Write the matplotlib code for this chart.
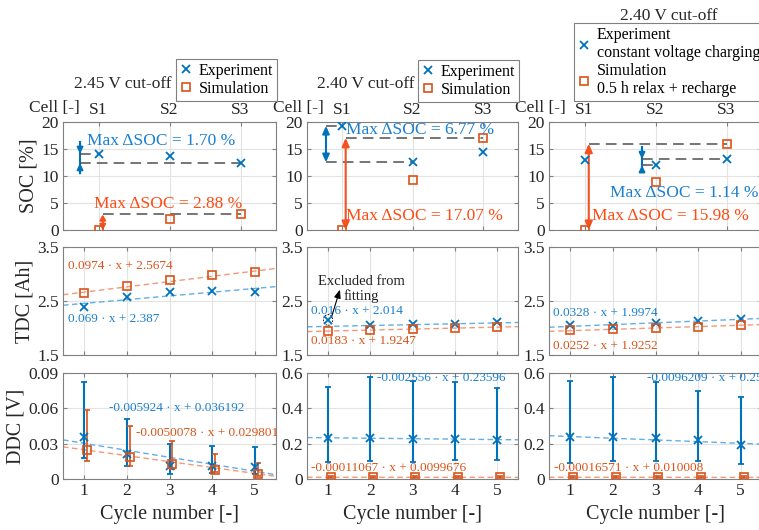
import numpy as np
import matplotlib.pyplot as plt
from matplotlib.patches import Ellipse

plt.rcParams['font.family'] = ['Liberation Serif', 'DejaVu Serif']
plt.rcParams['axes.linewidth'] = 0.8

BLUE = '#0072BD'
ORANGE = '#D95319'
TXT_BLUE = '#1A7FD1'
TXT_ORANGE = '#FF4A12'
FIT_BLUE = '#62AEE6'
FIT_ORANGE = '#F29A78'
EDGE = '#808080'
TICKC = '#262626'

# ---- data ----
titles = ['2.45 V cut-off', '2.40 V cut-off', '2.40 V cut-off']
legend_labels = [['Experiment', 'Simulation'],
                 ['Experiment', 'Simulation'],
                 ['Experiment\nconstant voltage charging',
                  'Simulation\n0.5 h relax + recharge']]
cells = ['S1', 'S2', 'S3']

soc_exp = [[14.1, 13.7, 12.4], [19.3, 12.53, 14.4], [13.0, 12.0, 13.14]]
soc_sim = [[0.0, 2.0, 2.88], [0.0, 9.2, 17.07], [0.0, 8.9, 15.98]]
max_dsoc_exp = [1.70, 6.77, 1.14]
max_dsoc_sim = [2.88, 17.07, 15.98]

cycles = [1, 2, 3, 4, 5]
tdc_exp = [[2.38, 2.58, 2.665, 2.69, 2.66],
           [2.15, 2.055, 2.065, 2.08, 2.11],
           [2.06, 2.04, 2.085, 2.13, 2.165]]
tdc_sim = [[2.645, 2.78, 2.88, 2.975, 3.03],
           [1.945, 1.96, 1.985, 2.0, 2.02],
           [1.963, 1.976, 1.994, 2.024, 2.056]]
tdc_fit_exp = [(0.069, 2.387), (0.016, 2.014), (0.0328, 1.9974)]
tdc_fit_sim = [(0.0974, 2.5674), (0.0183, 1.9247), (0.0252, 1.9252)]

ddc_exp = [[0.0354, 0.0213, 0.0112, 0.011, 0.0101],
           [0.232, 0.234, 0.227, 0.226, 0.223],
           [0.236, 0.236, 0.23, 0.222, 0.194]]
ddc_exp_lo = [[0.0177, 0.0112, 0.0045, 0.005, 0.0045],
              [0.098, 0.104, 0.098, 0.11, 0.11],
              [0.09, 0.1, 0.104, 0.1, 0.085]]
ddc_exp_hi = [[0.0824, 0.0509, 0.030, 0.0284, 0.0275],
              [0.519, 0.575, 0.553, 0.547, 0.515],
              [0.556, 0.575, 0.55, 0.5, 0.464]]
ddc_sim = [[0.0247, 0.0186, 0.0127, 0.0078, 0.0045],
           [0.0099, 0.0097, 0.0096, 0.0095, 0.0094],
           [0.0098, 0.0097, 0.0095, 0.0093, 0.0092]]
ddc_sim_lo = [[0.0152, 0.0112, 0.0084, 0.0056, 0.0028],
              [0.005, 0.005, 0.005, 0.005, 0.005],
              [0.005, 0.005, 0.005, 0.005, 0.005]]
ddc_sim_hi = [[0.0585, 0.045, 0.0326, 0.0213, 0.0132],
              [0.016, 0.016, 0.016, 0.016, 0.016],
              [0.016, 0.016, 0.016, 0.016, 0.016]]
ddc_fit_exp = [(-0.005924, 0.036192), (-0.002556, 0.23596), (-0.0096209, 0.25)]
ddc_fit_sim = [(-0.0050078, 0.029801), (-0.00011067, 0.0099676), (-0.00016571, 0.010008)]

# ---- layout (pixels of a 759x530 figure) ----
W, H = 759, 530
col_x = [(63, 276), (307, 518), (549, 762)]
row_y = [(122, 230), (247, 355), (373, 479)]

fig = plt.figure(figsize=(W / 100, H / 100), dpi=100)


def make_ax(c, r):
    x0, x1 = col_x[c]
    y0, y1 = row_y[r]
    ax = fig.add_axes([x0 / W, 1 - y1 / H, (x1 - x0) / W, (y1 - y0) / H])
    for s in ax.spines.values():
        s.set_color(EDGE)
    ax.tick_params(direction='in', length=3, colors=EDGE, labelcolor=TICKC,
                   labelsize=12.5, top=True, right=True, pad=3)
    ax.grid(True, color='#E3E3E3', lw=0.8)
    ax.set_axisbelow(True)
    return ax


def arrow(ax, x, y0, y1, color, both=False, hl=0.7, hw=0.3):
    style = '<|-|>' if both else '-|>'
    ax.annotate('', xy=(x, y1), xytext=(x, y0),
                arrowprops=dict(arrowstyle=f'{style},head_length={hl},head_width={hw}',
                                color=color, lw=1.5, shrinkA=0, shrinkB=0,
                                mutation_scale=10))


# SOC annotation settings per column: arrow x, text positions
soc_blue = [dict(x=0.74, inward=(16.3, 10.5), lines=[(14.1, 1), (12.4, 3)], txt=(0.84, 16.5)),
            dict(x=0.77, inward=None, lines=[(19.3, 1), (12.53, 2)], txt=(1.05, 18.6)),
            dict(x=1.81, inward=(15.4, 11.1), lines=[(13.14, 3), (12.0, 2)], txt=(1.36, 6.8))]
soc_orange = [dict(x=1.06, top=2.88, txt=(0.93, 4.8), hl=0.3, hw=0.17),
              dict(x=1.05, top=17.07, txt=(1.05, 2.65), hl=0.5, hw=0.22),
              dict(x=1.06, top=15.98, txt=(1.11, 2.5), hl=0.5, hw=0.22)]
tdc_txt_exp = [(0.62, 2.16), (0.59, 2.315), (0.59, 2.28)]
tdc_txt_sim = [(0.62, 3.15), (0.59, 1.75), (0.59, 1.67)]
ddc_txt_exp = [(1.575, 0.06), (2.15, 0.57), (2.79, 0.57)]
ddc_txt_sim = [(2.22, 0.0393), (0.59, 0.06), (0.62, 0.06)]
legend_anchor = [(277, 59), (519, 60), (764, 23)]
title_pos = [(123, 84), (366, 84), (669, 16)]

xs = np.array([1, 2, 3])
cyc = np.array(cycles)
xfit = np.array([0.5, 5.5])

for c in range(3):
    # ---------- SOC ----------
    ax = make_ax(c, 0)
    hx, = ax.plot(xs, soc_exp[c], 'x', color=BLUE, ms=6, mew=1.3, zorder=5)
    hs, = ax.plot(xs, soc_sim[c], 's', color=ORANGE, mfc='none', ms=6, mew=1.2, zorder=5)
    ax.set_xlim(0.5, 3.5)
    ax.set_ylim(0, 20)
    ax.set_yticks([0, 5, 10, 15, 20])
    ax.set_xticks(xs)
    ax.xaxis.tick_top()
    ax.tick_params(axis='x', bottom=True, top=True, labeltop=True, labelbottom=False)
    ax.set_xticklabels(cells)
    fig.text((col_x[c][0] + 17) / W, 1 - 108 / H, 'Cell [-]', ha='right', va='center',
             fontsize=12.5, color=TICKC)
    if c == 0:
        ax.set_ylabel('SOC [%]', fontsize=14.5, color=TICKC, labelpad=2)

    b = soc_blue[c]
    for yv, xe in b['lines']:
        ax.plot([b['x'], xe], [yv, yv], '--', color='#505050', lw=1.1, dashes=(7, 4), zorder=3)
    ys_b = [v for v, _ in b['lines']]
    lo, hi = min(ys_b), max(ys_b)
    if b['inward']:
        top, bot = b['inward']
        ax.plot([b['x'], b['x']], [bot, top], color=BLUE, lw=1.5)
        arrow(ax, b['x'], top, hi, BLUE, hl=0.35, hw=0.17)
        arrow(ax, b['x'], bot, lo, BLUE, hl=0.35, hw=0.17)
    else:
        arrow(ax, b['x'], lo, hi, BLUE, both=True, hl=0.45, hw=0.2)
    ax.text(*b['txt'], f'Max \u0394SOC = {max_dsoc_exp[c]:.2f} %', color=TXT_BLUE,
            fontsize=12.5, va='center', ha='left', zorder=6)

    o = soc_orange[c]
    ax.plot([o['x'], 3], [o['top'], o['top']], '--', color='#505050', lw=1.1, dashes=(7, 4), zorder=3)
    arrow(ax, o['x'], 0, o['top'], '#F4511E', both=True, hl=o['hl'], hw=o['hw'])
    ax.text(*o['txt'], f'Max \u0394SOC = {max_dsoc_sim[c]:.2f} %', color=TXT_ORANGE,
            fontsize=12.5, va='center', ha='left', zorder=6)

    ax_x, ax_y = legend_anchor[c]
    leg = fig.legend([hx, hs], legend_labels[c], loc='upper right',
                     bbox_to_anchor=(ax_x / W, 1 - ax_y / H), borderaxespad=0,
                     fontsize=11.5, handlelength=0.7, handletextpad=0.45,
                     borderpad=0.25, labelspacing=0.1, fancybox=False,
                     edgecolor=EDGE, framealpha=1)
    leg.get_frame().set_linewidth(0.8)
    tx, ty = title_pos[c]
    fig.text(tx / W, 1 - ty / H, titles[c], ha='center', va='center', fontsize=12.5, color=TICKC)

    # ---------- TDC ----------
    ax = make_ax(c, 1)
    a, k = tdc_fit_exp[c]
    ax.plot(xfit, a * xfit + k, '--', color=FIT_BLUE, lw=1, dashes=(4, 2.5))
    a2, k2 = tdc_fit_sim[c]
    ax.plot(xfit, a2 * xfit + k2, '--', color=FIT_ORANGE, lw=1, dashes=(4, 2.5))
    ax.plot(cyc, tdc_exp[c], 'x', color=BLUE, ms=6, mew=1.3, zorder=5)
    ax.plot(cyc, tdc_sim[c], 's', color=ORANGE, mfc='none', ms=6, mew=1.2, zorder=5)
    ax.text(*tdc_txt_exp[c], f'{a} \u00b7 x + {k}', color=TXT_BLUE, fontsize=9.5, va='center')
    ax.text(*tdc_txt_sim[c], f'{a2} \u00b7 x + {k2}', color=ORANGE, fontsize=9.5, va='center')
    ax.set_xlim(0.5, 5.5)
    ax.set_ylim(1.5, 3.5)
    ax.set_yticks([1.5, 2.5, 3.5])
    ax.set_yticklabels(['1.5', '2.5', '3.5'])
    ax.set_xticks(cycles)
    ax.tick_params(axis='x', labelbottom=False)
    if c == 0:
        ax.set_ylabel('TDC [Ah]', fontsize=14.5, color=TICKC, labelpad=2)
    if c == 1:
        ax.add_patch(Ellipse((1.0, 2.15), 0.22, 0.2, fill=False, ec='k', lw=0.6, ls=(0, (2, 1.5))))
        ax.text(1.78, 2.72, 'Excluded from\nfitting', ha='center', va='center',
                fontsize=10.5, color='#222222', linespacing=1.15)
        ax.annotate('', xy=(1.28, 2.71), xytext=(1.08, 2.2),
                    arrowprops=dict(arrowstyle='-|>,head_length=0.5,head_width=0.2',
                                    color='k', lw=0.8, shrinkA=0, shrinkB=0, mutation_scale=10))

    # ---------- DDC ----------
    ax = make_ax(c, 2)
    a, k = ddc_fit_exp[c]
    ax.plot(xfit, a * xfit + k, '--', color=FIT_BLUE, lw=1, dashes=(4, 2.5))
    a2, k2 = ddc_fit_sim[c]
    ax.plot(xfit, a2 * xfit + k2, '--', color=FIT_ORANGE, lw=1, dashes=(4, 2.5))
    m = np.array(ddc_exp[c])
    ax.errorbar(cyc, m, yerr=[m - np.array(ddc_exp_lo[c]), np.array(ddc_exp_hi[c]) - m],
                fmt='x', color=BLUE, ms=6, mew=1.3, elinewidth=1.5, capsize=2.5, capthick=1.2, zorder=5)
    m2 = np.array(ddc_sim[c])
    ax.errorbar(cyc + 0.07, m2, yerr=[m2 - np.array(ddc_sim_lo[c]), np.array(ddc_sim_hi[c]) - m2],
                fmt='s', color=ORANGE, mfc='none', ms=6, mew=1.2, elinewidth=1.2, capsize=2.5,
                capthick=1.2, zorder=5)
    ax.text(*ddc_txt_exp[c], f'{a} \u00b7 x + {k}', color=TXT_BLUE, fontsize=9.5, va='center',
            clip_on=False, zorder=7)
    ax.text(*ddc_txt_sim[c], f'{a2} \u00b7 x + {k2}', color=ORANGE, fontsize=9.5, va='center',
            clip_on=False, zorder=7)
    ax.set_xlim(0.5, 5.5)
    ax.set_xticks(cycles)
    if c == 0:
        ax.set_ylim(0, 0.09)
        ax.set_yticks([0, 0.03, 0.06, 0.09])
        ax.set_yticklabels(['0', '0.03', '0.06', '0.09'])
        ax.set_ylabel('DDC [V]', fontsize=14.5, color=TICKC, labelpad=2)
    else:
        ax.set_ylim(0, 0.6)
        ax.set_yticks([0, 0.2, 0.4, 0.6])
        ax.set_yticklabels(['0', '0.2', '0.4', '0.6'])
    ax.set_xlabel('Cycle number [-]', fontsize=14.5, color=TICKC, labelpad=4)

fig.savefig('out.png', dpi=100)
